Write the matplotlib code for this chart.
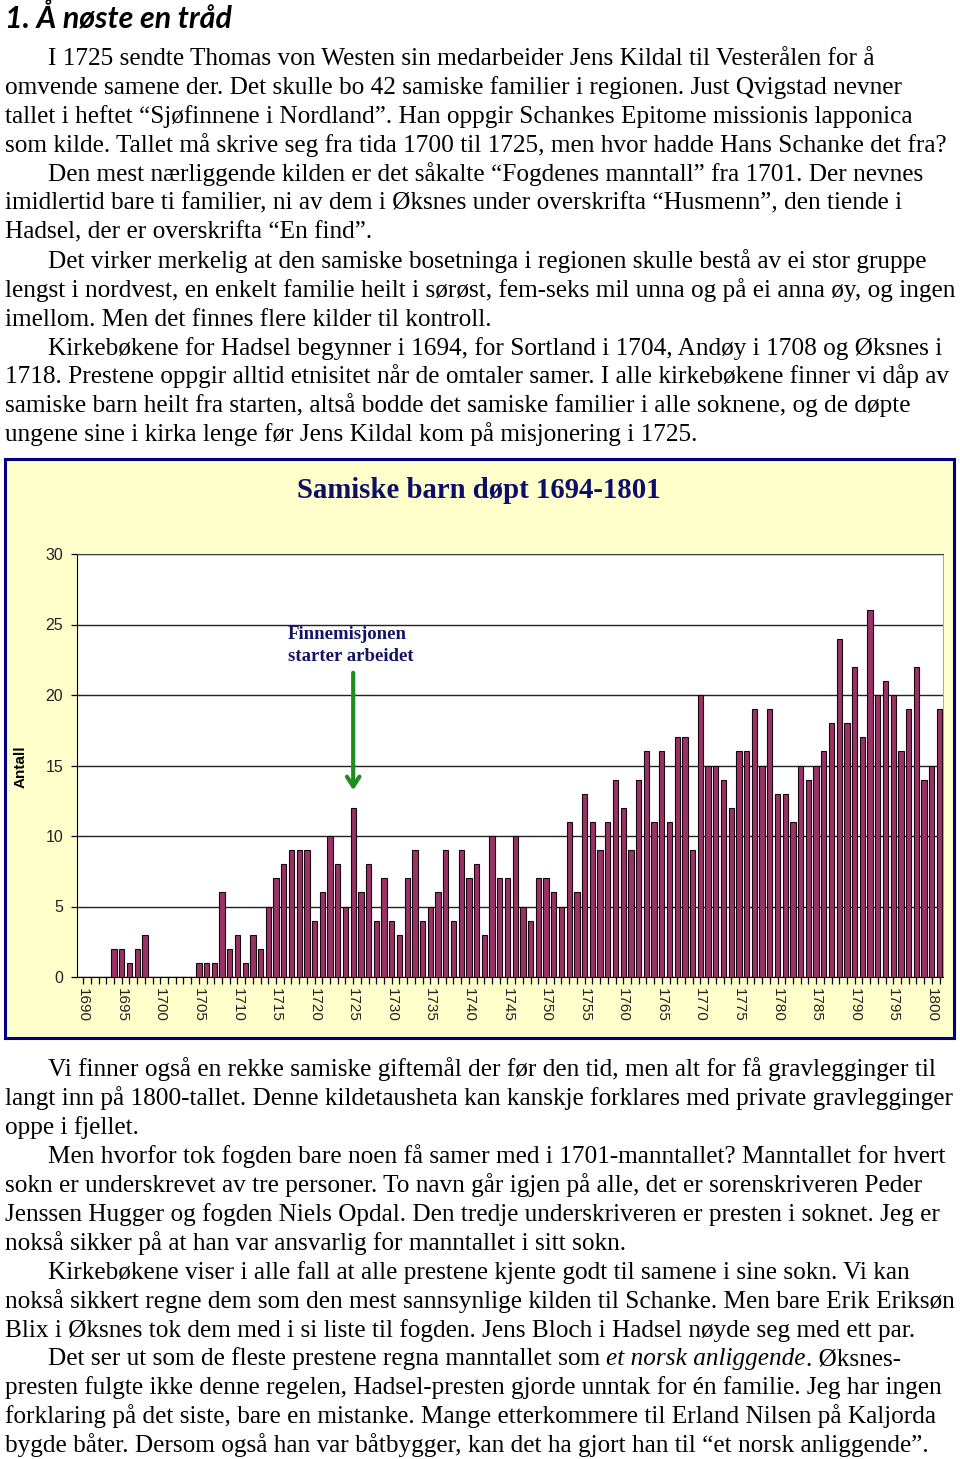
import matplotlib
matplotlib.use("Agg")
import matplotlib.pyplot as plt
import numpy as np
from matplotlib.patches import Rectangle

W, H = 960, 1459

# data: baptised Sami children per year
years = np.arange(1690, 1802)
counts = [0, 0, 0, 0, 2, 2, 1, 2, 3, 0,
          0, 0, 0, 0, 0, 1, 1, 1, 6, 2,
          3, 1, 3, 2, 5, 7, 8, 9, 9, 9,
          4, 6, 10, 8, 5, 12, 6, 8, 4, 7,
          4, 3, 7, 9, 4, 5, 6, 9, 4, 9,
          7, 8, 3, 10, 7, 7, 10, 5, 4, 7,
          7, 6, 5, 11, 6, 13, 11, 9, 11, 14,
          12, 9, 14, 16, 11, 16, 11, 17, 17, 9,
          20, 15, 15, 14, 12, 16, 16, 19, 15, 19,
          13, 13, 11, 15, 14, 15, 16, 18, 24, 18,
          22, 17, 26, 20, 21, 20, 16, 19, 22, 14,
          15, 19]
yticks = [0, 5, 10, 15, 20, 25, 30]
year_labels = [str(y) if y % 5 == 0 else "" for y in years]

heading = "1. Å nøste en tråd"
chart_title = "Samiske barn døpt 1694-1801"
note = "Finnemisjonen\nstarter arbeidet"

# (indent?, line text)
top_lines = [
    (True, "I 1725 sendte Thomas von Westen sin medarbeider Jens Kildal til Vesterålen for å"),
    (False, "omvende samene der. Det skulle bo 42 samiske familier i regionen. Just Qvigstad nevner"),
    (False, "tallet i heftet “Sjøfinnene i Nordland”. Han oppgir Schankes Epitome missionis lapponica"),
    (False, "som kilde. Tallet må skrive seg fra tida 1700 til 1725, men hvor hadde Hans Schanke det fra?"),
    (True, "Den mest nærliggende kilden er det såkalte “Fogdenes manntall” fra 1701. Der nevnes"),
    (False, "imidlertid bare ti familier, ni av dem i Øksnes under overskrifta “Husmenn”, den tiende i"),
    (False, "Hadsel, der er overskrifta “En find”."),
    (True, "Det virker merkelig at den samiske bosetninga i regionen skulle bestå av ei stor gruppe"),
    (False, "lengst i nordvest, en enkelt familie heilt i sørøst, fem-seks mil unna og på ei anna øy, og ingen"),
    (False, "imellom. Men det finnes flere kilder til kontroll."),
    (True, "Kirkebøkene for Hadsel begynner i 1694, for Sortland i 1704, Andøy i 1708 og Øksnes i"),
    (False, "1718. Prestene oppgir alltid etnisitet når de omtaler samer. I alle kirkebøkene finner vi dåp av"),
    (False, "samiske barn heilt fra starten, altså bodde det samiske familier i alle soknene, og de døpte"),
    (False, "ungene sine i kirka lenge før Jens Kildal kom på misjonering i 1725."),
]
bottom_lines = [
    (True, "Vi finner også en rekke samiske giftemål der før den tid, men alt for få gravlegginger til"),
    (False, "langt inn på 1800-tallet. Denne kildetausheta kan kanskje forklares med private gravlegginger"),
    (False, "oppe i fjellet."),
    (True, "Men hvorfor tok fogden bare noen få samer med i 1701-manntallet? Manntallet for hvert"),
    (False, "sokn er underskrevet av tre personer. To navn går igjen på alle, det er sorenskriveren Peder"),
    (False, "Jenssen Hugger og fogden Niels Opdal. Den tredje underskriveren er presten i soknet. Jeg er"),
    (False, "nokså sikker på at han var ansvarlig for manntallet i sitt sokn."),
    (True, "Kirkebøkene viser i alle fall at alle prestene kjente godt til samene i sine sokn. Vi kan"),
    (False, "nokså sikkert regne dem som den mest sannsynlige kilden til Schanke. Men bare Erik Eriksøn"),
    (False, "Blix i Øksnes tok dem med i si liste til fogden. Jens Bloch i Hadsel nøyde seg med ett par."),
    (True, ["Det ser ut som de fleste prestene regna manntallet som ", "et norsk anliggende", ". Øksnes-"]),
    (False, "presten fulgte ikke denne regelen, Hadsel-presten gjorde unntak for én familie. Jeg har ingen"),
    (False, "forklaring på det siste, bare en mistanke. Mange etterkommere til Erland Nilsen på Kaljorda"),
    (False, "bygde båter. Dersom også han var båtbygger, kan det ha gjort han til “et norsk anliggende”."),
]

fig = plt.figure(figsize=(W / 100, H / 100), dpi=100)
fig.patch.set_facecolor("white")
renderer = fig.canvas.get_renderer()


def fx(x):
    return x / W


def fy(y):
    return 1 - y / H


def width_px(t):
    return t.get_window_extent(renderer=renderer).width


serif = "Liberation Serif"

# fit body font size so the first line has the same width as in the page
probe = fig.text(0, 0, top_lines[0][1], fontsize=16, family=serif)
body_fs = 16 * 827 / width_px(probe)
probe.remove()


def draw_lines(lines, base_y, step=28.95):
    for i, (indent, txt) in enumerate(lines):
        x = 48 if indent else 5
        y = fy(base_y + i * step)
        if isinstance(txt, list):
            cur = x
            for j, piece in enumerate(txt):
                t = fig.text(fx(cur), y, piece, fontsize=body_fs, family=serif,
                             style="italic" if j == 1 else "normal", va="baseline")
                cur += width_px(t)
        else:
            fig.text(fx(x), y, txt, fontsize=body_fs, family=serif, va="baseline")


h = fig.text(fx(5), fy(27), heading, fontsize=20, family=["Lato", "DejaVu Sans"],
             weight="bold", style="italic", va="baseline")
h.set_fontsize(20 * 227 / width_px(h))
draw_lines(top_lines, 65)
draw_lines(bottom_lines, 1076)

# chart frame
frame = Rectangle((fx(5), fy(1038)), (954 - 5) / W, (1038 - 459) / H,
                  transform=fig.transFigure, facecolor="#FFFFCC",
                  edgecolor="#000080", lw=2.2, zorder=-5)
fig.patches.append(frame)

t = fig.text(fx(479), fy(491), chart_title, fontsize=18, family=serif, weight="bold",
             color="#0D0D6B", ha="center", va="center")
t.set_fontsize(18 * 364 / width_px(t))

ax = fig.add_axes([fx(77), fy(977), (943 - 77) / W, (977 - 554) / H])
ax.set_zorder(5)
ax.set_facecolor("white")
ax.bar(years, counts, width=0.68, color="#993366", edgecolor="#1a0610", lw=0.8, zorder=3)
ax.set_xlim(1689.2, 1801.45)
ax.set_ylim(0, 30)
ax.set_yticks(yticks)
ax.set_yticklabels([str(v) for v in yticks], fontsize=11.5, family="Liberation Sans",
                   color="#222222")
ax.set_xticks(years)
ax.set_xticklabels(year_labels, rotation=-90, fontsize=11, family="Liberation Sans",
                   color="#222222")
ax.tick_params(axis="x", length=5, width=0.9, pad=3)
ax.tick_params(axis="y", length=4, width=0.9, pad=6)
ax.yaxis.grid(True, color="#222222", lw=1.0, zorder=1)
ax.set_axisbelow(True)
for s in ["left", "bottom"]:
    ax.spines[s].set_color("black")
ax.spines["top"].set_color("#444444")
ax.spines["right"].set_color("#aaaaaa")
ax.set_ylabel("Antall", fontsize=11, weight="bold", family="Liberation Sans")
ax.yaxis.set_label_coords(-(77 - 28) / 866, (977 - 767) / 423)

ax.text(1716.5, (977 - 626) / 14.1, note, fontsize=13.5, family=serif, weight="bold",
        color="#141464", ha="left", va="top", linespacing=1.35)
ax.annotate("", xy=(1725, (977 - 793) / 14.1), xytext=(1725, (977 - 670) / 14.1),
            arrowprops=dict(arrowstyle="->,head_length=0.7,head_width=0.45",
                            color="#1E8C1E", lw=3))

fig.savefig("out.png", dpi=100)
